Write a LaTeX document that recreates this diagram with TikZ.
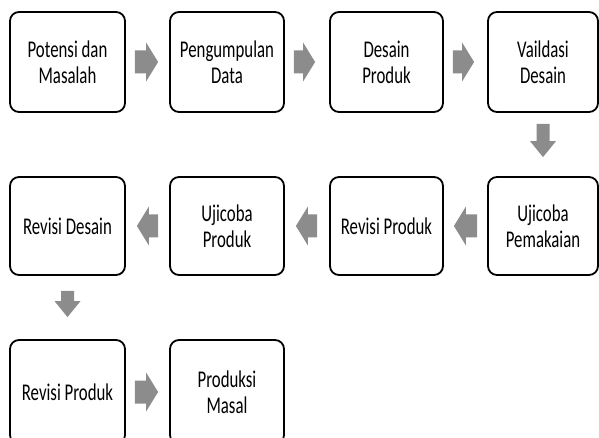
\documentclass[tikz,border=0pt]{standalone}
\usepackage{fontspec}
\setmainfont{Carlito}[FakeStretch=0.70]
\usetikzlibrary{calc}
\definecolor{arrowgray}{RGB}{140,140,140}
% #1 start, #2 tip, #3 shaft half width, #4 head half width, #5 head length
\newcommand\blockarrow[5]{%
  \coordinate (ba-c) at ($(#2)!#5!(#1)$);
  \fill[arrowfill] ($(#1)!#3!90:(#2)$) -- ($(ba-c)!#3!90:(#2)$) -- ($(ba-c)!#4!90:(#2)$)
    -- (#2) -- ($(ba-c)!#4!-90:(#2)$) -- ($(ba-c)!#3!-90:(#2)$) -- ($(#1)!#3!-90:(#2)$) -- cycle;}
\newcommand\harrow[2]{\blockarrow{#1}{#2}{11.5pt}{19.5pt}{12pt}}
\newcommand\varrow[2]{\blockarrow{#1}{#2}{6.5pt}{13pt}{16pt}}
\begin{document}
\begin{tikzpicture}[x=1pt,y=-1pt,
  stepbox/.style={draw=black, line width=1.8pt, rounded corners=9pt,
    minimum width=114pt, minimum height=99pt, align=center, inner sep=0pt,
    font=\fontsize{24}{26}\selectfont},
  arrowfill/.style={fill=arrowgray}]
\useasboundingbox (0,0) rectangle (599,438);
% row 1
\node[stepbox, minimum width=115pt, minimum height=100pt] (n1) at (67.5,62) {Potensi dan\\Masalah};
\node[stepbox, minimum height=100pt] (n2) at (227,62) {Pengumpulan\\Data};
\node[stepbox, minimum width=113pt, minimum height=100pt] (n3) at (386.5,62) {Desain\\Produk};
\node[stepbox, minimum width=110pt, minimum height=100pt] (n4) at (543,62) {Vaildasi\\Desain};
% row 2
\node[stepbox, minimum width=110pt, minimum height=98pt] (n5) at (543,226) {Ujicoba\\Pemakaian};
\node[stepbox, minimum width=113pt, minimum height=98pt] (n6) at (386.5,226) {Revisi Produk};
\node[stepbox, minimum height=98pt] (n7) at (227,226) {Ujicoba\\Produk};
\node[stepbox, minimum width=115pt, minimum height=98pt] (n8) at (67.5,226) {Revisi Desain};
% row 3 (runs past the bottom edge)
\node[stepbox, minimum width=115pt, minimum height=104pt] (n9) at (67.5,392) {Revisi Produk};
\node[stepbox, minimum height=104pt] (n10) at (227,392) {Produksi\\Masal};
% arrow end points
\coordinate (s12) at ([xshift=9pt]n1.east);   \coordinate (e12) at ([xshift=-11pt]n2.west);
\coordinate (s23) at ([xshift=9pt]n2.east);   \coordinate (e23) at ([xshift=-14pt]n3.west);
\coordinate (s34) at ([xshift=9pt]n3.east);   \coordinate (e34) at ([xshift=-13pt]n4.west);
\coordinate (s45) at ([yshift=-11pt]n4.south); \coordinate (e45) at ([yshift=19pt]n5.north);
\coordinate (s56) at ([xshift=-10pt]n5.west); \coordinate (e56) at ([xshift=10pt]n6.east);
\coordinate (s67) at ([xshift=-12pt]n6.west); \coordinate (e67) at ([xshift=11pt]n7.east);
\coordinate (s78) at ([xshift=-11pt]n7.west); \coordinate (e78) at ([xshift=11pt]n8.east);
\coordinate (s89) at ([yshift=-15pt]n8.south); \coordinate (e89) at ([yshift=22pt]n9.north);
\coordinate (s910) at ([xshift=9pt]n9.east);  \coordinate (e910) at ([xshift=-11pt]n10.west);
\harrow{s12}{e12}
\harrow{s23}{e23}
\harrow{s34}{e34}
\varrow{s45}{e45}
\harrow{s56}{e56}
\harrow{s67}{e67}
\harrow{s78}{e78}
\varrow{s89}{e89}
\harrow{s910}{e910}
\end{tikzpicture}
\end{document}
